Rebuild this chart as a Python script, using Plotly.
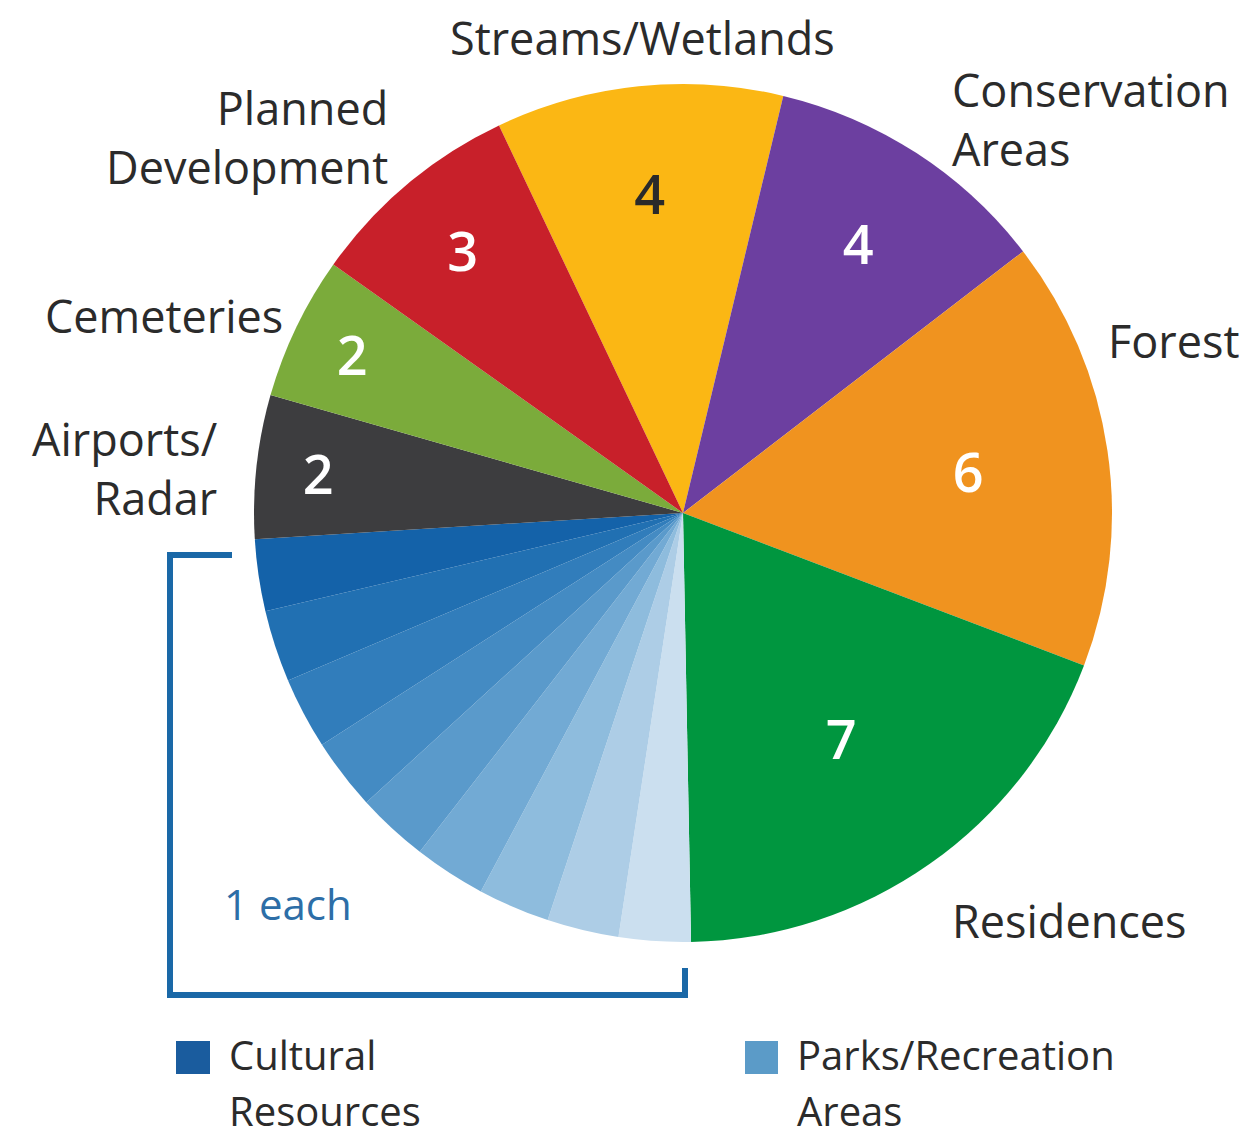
import plotly.graph_objects as go

# ---- data ----
categories = ["Streams/Wetlands", "Conservation Areas", "Forest", "Residences",
              "Blue 1", "Blue 2", "Blue 3", "Blue 4", "Blue 5", "Blue 6", "Blue 7", "Blue 8", "Blue 9",
              "Airports/Radar", "Cemeteries", "Planned Development"]
values = [4, 4, 6, 7, 1, 1, 1, 1, 1, 1, 1, 1, 1, 2, 2, 3]
slice_text = ["4", "4", "6", "7", "", "", "", "", "", "", "", "", "", "2", "2", "3"]
legend_names = [("Cultural", "Resources"), ("Parks/Recreation", "Areas")]

# ---- styles ----
colors = ["#FBB714", "#6C3FA0", "#F0931F", "#00963F",
          "#CBDFEF", "#ADCDE6", "#8EBCDD", "#72AAD4", "#5A9ACB", "#448BC3", "#317DBB", "#2170B2", "#1462A9",
          "#3D3D3F", "#7BAB3B", "#C8202A"]
text_colors = ["#2a2a2a"] + ["#ffffff"] * 15
legend_colors = ["#1A5C9E", "#5B9BC8"]

W, H = 1254, 1140
OFF = 8  # browser body margin
def px(x):
    return (x - OFF) / W
def py(y):
    return 1 - (y - OFF) / H

fig = go.Figure()
fig.add_trace(go.Pie(
    labels=categories, values=values, text=slice_text,
    texttemplate="%{text}", textinfo="text",
    textposition="inside", insidetextorientation="horizontal",
    insidetextfont=dict(family="Open Sans", size=54, color=text_colors, weight=600),
    marker=dict(colors=colors, line=dict(width=0)),
    sort=False, direction="clockwise", rotation=-25.4,
    domain=dict(x=[px(683 - 429), px(683 + 429)], y=[py(942), py(84)]),
    showlegend=False, hoverinfo="label+value",
))

lab_font = dict(family="Open Sans", size=45, color="#2b2b2b")
annos = [
    ("Streams/Wetlands", 642, 38, "center", "center"),
    ("Planned<br>Development", 390, 137, "right", "right"),
    ("Conservation<br>Areas", 950, 119, "left", "left"),
    ("Cemeteries", 285, 315, "right", "right"),
    ("Forest", 1106, 340, "left", "left"),
    ("Airports/<br>Radar", 220, 468, "right", "right"),
    ("Residences", 950, 920, "left", "left"),
]
annotations = []
for t, x, y, xa, al in annos:
    annotations.append(dict(text=t, x=px(x), y=py(y), xref="paper", yref="paper",
                            xanchor=xa, yanchor="middle", align=al, showarrow=False,
                            font=lab_font))

leg_font = dict(family="Open Sans", size=40, color="#2b2b2b")
for (l1, l2), lx in zip(legend_names, [228, 796]):
    annotations.append(dict(text=l1, x=px(lx), y=py(1083), xref="paper", yref="paper",
                            xanchor="left", yanchor="bottom", showarrow=False, font=leg_font,
                            borderpad=0))
    annotations.append(dict(text=l2, x=px(lx), y=py(1139), xref="paper", yref="paper",
                            xanchor="left", yanchor="bottom", showarrow=False, font=leg_font,
                            borderpad=0))

annotations.append(dict(text="1 each", x=px(222), y=py(903), xref="paper", yref="paper",
                        xanchor="left", yanchor="middle", showarrow=False,
                        font=dict(family="Open Sans", size=42, color="#2D6EA7")))

bc = "#1A68A7"
shapes = [
    dict(type="path", xref="paper", yref="paper",
         path=f"M {px(232)} {py(555)} L {px(170)} {py(555)} L {px(170)} {py(995)} L {px(685)} {py(995)} L {px(685)} {py(968)}",
         line=dict(color=bc, width=6)),
]
for c, (x0, x1) in zip(legend_colors, [(176, 210), (745, 778)]):
    shapes.append(dict(type="rect", xref="paper", yref="paper", x0=px(x0), x1=px(x1),
                       y0=py(1074), y1=py(1041), fillcolor=c, line=dict(width=0)))

fig.update_layout(width=W, height=H, margin=dict(l=0, r=0, t=0, b=0),
                  paper_bgcolor="white", plot_bgcolor="white",
                  annotations=annotations, shapes=shapes)
fig.write_html("out.html")
